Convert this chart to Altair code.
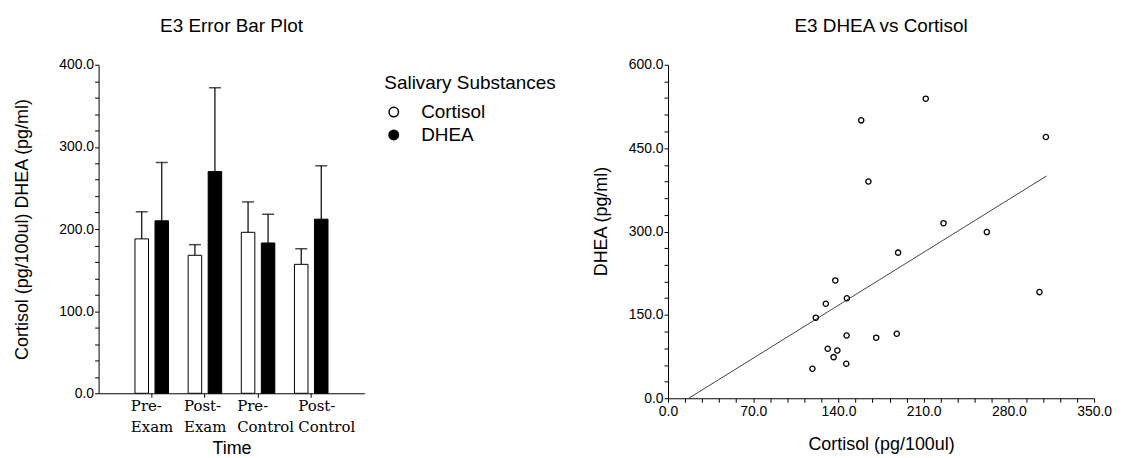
import altair as alt
import pandas as pd

# ---------------- data ----------------
times = ["Pre-Exam", "Post-Exam", "Pre-Control", "Post-Control"]
substances = ["Cortisol", "DHEA"]
cortisol_mean = [188, 168, 196, 157]
cortisol_upper = [221, 181, 233, 176]
dhea_mean = [210, 270, 183, 212]
dhea_upper = [281, 372, 218, 277]

scatter_cortisol = [211.7, 158.7, 310.4, 164.6, 226.3, 261.9, 189.0, 137.4, 146.9, 129.6,
                    121.4, 305.1, 146.7, 171.0, 187.9, 131.2, 139.1, 136.0, 146.4, 118.6]
scatter_dhea = [539, 500, 470, 390, 315, 299, 262, 212, 180, 170,
                145, 191, 113, 109, 116, 89, 86, 74, 62, 53]
fit_cortisol = [17, 311]
fit_dhea = [0, 400]

y_left_ticks = list(range(0, 401, 20))
x_right_ticks = list(range(0, 351, 14))
y_right_ticks = list(range(0, 601, 30))

rows = []
for i, t in enumerate(times):
    rows.append({"time": t, "substance": "Cortisol", "mean": cortisol_mean[i], "upper": cortisol_upper[i]})
    rows.append({"time": t, "substance": "DHEA", "mean": dhea_mean[i], "upper": dhea_upper[i]})
bars_df = pd.DataFrame(rows)
scatter_df = pd.DataFrame({"cortisol": scatter_cortisol, "dhea": scatter_dhea})
fit_df = pd.DataFrame({"cortisol": fit_cortisol, "dhea": fit_dhea})

SANS = "Liberation Sans"

# ---------------- left: error bar plot ----------------
x_left = alt.X(
    "time:N", sort=times, title="Time",
    scale=alt.Scale(paddingInner=0, paddingOuter=0.5),
    axis=alt.Axis(
        labelAngle=0, labelFont="DejaVu Serif", labelFontSize=15,
        labelAlign="left", labelBaseline="top",
        labelOffset={"condition": {"test": "datum.value === 'Post-Control'", "value": -13}, "value": -21},
        labelExpr="[split(datum.label, '-')[0] + '-', split(datum.label, '-')[1]]",
        labelLineHeight=21, labelPadding=1, tickSize=4, labelOverlap=False,
        titleFontSize=18, titlePadding=5,
    ),
)
x_off = alt.XOffset("substance:N", sort=substances,
                    scale=alt.Scale(paddingInner=0.325, paddingOuter=0.49))
y_left = alt.Y(
    "mean:Q", title="Cortisol (pg/100ul) DHEA (pg/ml)",
    scale=alt.Scale(domain=[0, 400], nice=False),
    axis=alt.Axis(
        values=y_left_ticks, tickCount=100,
        labelExpr="datum.value % 100 === 0 ? format(datum.value, '.1f') : ''",
        labelOverlap=False, labelFlush=False, tickSize=4,
        labelFontSize=14, labelPadding=1, titleFontSize=18, titlePadding=27,
    ),
)

base_left = alt.Chart(bars_df)
bars = base_left.mark_bar(stroke="black", strokeWidth=1).encode(
    x=x_left, xOffset=x_off, y=y_left,
    color=alt.Color(
        "substance:N", sort=substances,
        scale=alt.Scale(domain=substances, range=["white", "black"]),
        legend=alt.Legend(
            title="Salivary Substances", orient="none", legendX=287, legendY=9,
            symbolType="circle", symbolSize=90, symbolStrokeColor="black", symbolStrokeWidth=1.5,
            titleFontSize=19, titleFontWeight="normal", titleFont=SANS, titlePadding=10,
            labelFontSize=19, labelFont=SANS, labelOffset=18, rowPadding=3,
        ),
    ),
)
err = base_left.mark_rule(color="black", strokeWidth=1.2).encode(
    x=x_left, xOffset=x_off, y="mean:Q", y2="upper:Q"
)
caps = base_left.mark_tick(color="black", thickness=1.5, size=12).encode(
    x=x_left, xOffset=x_off, y="upper:Q"
)
left = alt.layer(err, bars, caps).properties(
    width=267, height=330,
    title=alt.TitleParams("E3 Error Bar Plot", offset=22),
)

# ---------------- right: scatter ----------------
x_right = alt.X(
    "cortisol:Q", title="Cortisol (pg/100ul)",
    scale=alt.Scale(domain=[0, 350], nice=False),
    axis=alt.Axis(
        values=x_right_ticks, tickCount=100,
        labelExpr="datum.value % 70 === 0 ? format(datum.value, '.1f') : ''",
        labelOverlap=False, labelFlush=False, tickSize=4,
        labelFontSize=14, labelPadding=2, titleFontSize=18, titlePadding=17,
    ),
)
y_right = alt.Y(
    "dhea:Q", title="DHEA (pg/ml)",
    scale=alt.Scale(domain=[0, 600], nice=False),
    axis=alt.Axis(
        values=y_right_ticks, tickCount=100,
        labelExpr="datum.value % 150 === 0 ? format(datum.value, '.1f') : ''",
        labelOverlap=False, labelFlush=False, tickSize=4,
        labelFontSize=14, labelPadding=1, titleFontSize=18, titlePadding=18, titleY=157,
    ),
)
pts = alt.Chart(scatter_df).mark_point(
    shape="circle", size=28, color="black", strokeWidth=1.3, filled=False, opacity=1
).encode(x=x_right, y=y_right)
fit = alt.Chart(fit_df).mark_line(color="#444444", strokeWidth=1).encode(
    x=alt.X("cortisol:Q"), y=alt.Y("dhea:Q")
)
right = alt.layer(fit, pts).properties(
    width=428, height=335,
    title=alt.TitleParams("E3 DHEA vs Cortisol", offset=22),
)

chart = alt.hconcat(left, right, spacing=228).configure_view(stroke=None).configure_axis(
    grid=False, domainColor="black", tickColor="black", labelColor="black",
    titleColor="black", labelFont=SANS, titleFont=SANS, titleFontWeight="normal",
    domainWidth=1, tickWidth=1,
).configure_title(
    font=SANS, fontSize=19, fontWeight="normal", color="black"
).configure_legend(labelColor="black", titleColor="black").properties(
    background="white", padding={"top": 8, "left": 5, "right": 5, "bottom": 2}
)

chart.save("out.html", embed_options={"renderer": "svg", "actions": False})
